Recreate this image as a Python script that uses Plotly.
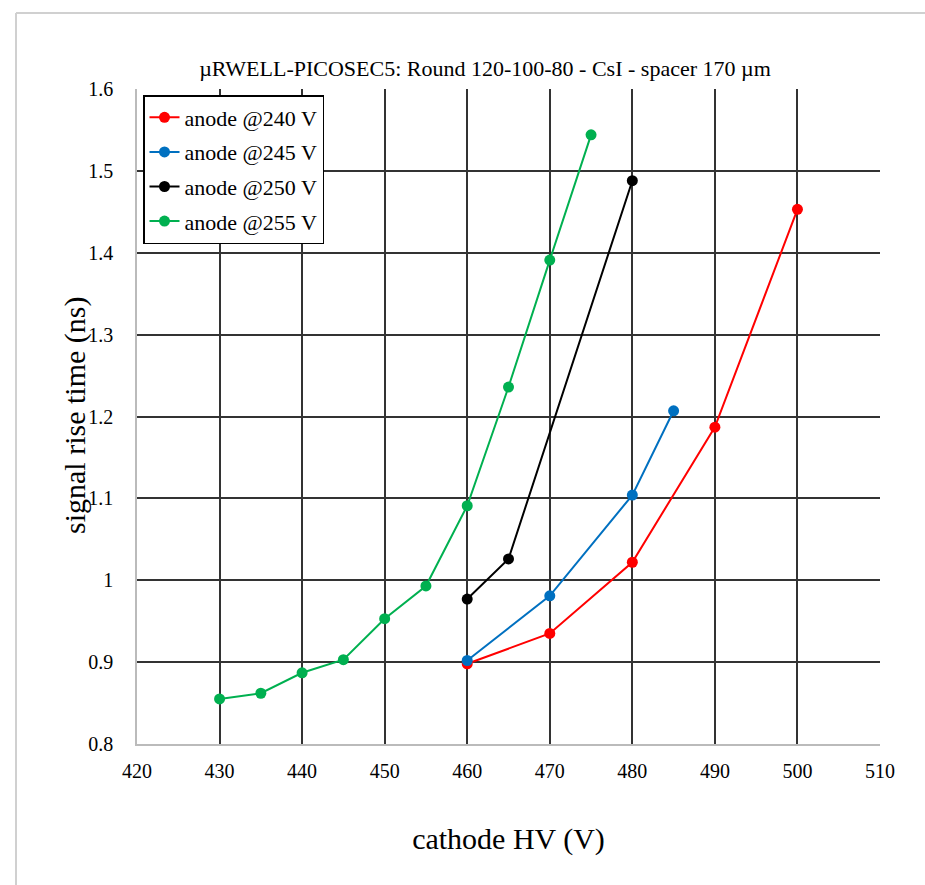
import plotly.graph_objects as go

# Cathode HV scan, rise time per anode voltage
hv_240 = [460, 470, 480, 490, 500]
rt_240 = [0.898, 0.935, 1.022, 1.187, 1.453]

hv_245 = [460, 470, 480, 485]
rt_245 = [0.902, 0.981, 1.104, 1.207]

hv_250 = [460, 465, 480]
rt_250 = [0.977, 1.026, 1.488]

hv_255 = [430, 435, 440, 445, 450, 455, 460, 465, 470, 475]
rt_255 = [0.855, 0.862, 0.887, 0.903, 0.953, 0.993, 1.091, 1.236, 1.391, 1.544]

series = [
    ("anode @240 V", hv_240, rt_240, "#FF0000"),
    ("anode @245 V", hv_245, rt_245, "#0070C0"),
    ("anode @250 V", hv_250, rt_250, "#000000"),
    ("anode @255 V", hv_255, rt_255, "#00B050"),
]

SERIF = "Liberation Serif"
L, R, T, B = 137, 45, 89, 141
PW, PH = 925 - L - R, 885 - T - B

fig = go.Figure()
for name, x, y, color in series:
    fig.add_trace(go.Scatter(
        x=x, y=y, name=name, legendgroup=name, mode="lines+markers",
        line=dict(color=color, width=2),
        marker=dict(color=color, size=11),
    ))

fig.update_layout(
    width=925, height=885,
    margin=dict(l=L, r=R, t=T, b=B),
    paper_bgcolor="white", plot_bgcolor="white",
    font=dict(family=SERIF, color="#000000"),
    title=dict(
        text="µRWELL-PICOSEC5: Round 120-100-80 - CsI - spacer 170 µm",
        x=(485 - L) / PW, xref="paper", xanchor="center",
        y=1 - 68 / 885, yanchor="middle",
        font=dict(family=SERIF, size=22, color="#000000"),
    ),
    showlegend=True,
    legend=dict(
        x=(143 - L) / PW, y=(885 - B - 95) / PH, xanchor="left", yanchor="top",
        bgcolor="white", bordercolor="#000000", borderwidth=1.5,
        font=dict(family=SERIF, size=22, color="#000000"),
        itemwidth=30, traceorder="grouped", tracegroupgap=3,
    ),
    annotations=[
        dict(text="signal rise time (ns)", textangle=-90,
             xref="paper", yref="paper",
             x=(75 - L) / PW, y=(885 - B - 416) / PH,
             xanchor="center", yanchor="middle", showarrow=False,
             font=dict(family=SERIF, size=30, color="#000000")),
    ],
    shapes=[
        dict(type="line", xref="paper", yref="paper",
             x0=(16 - L) / PW, x1=(925 - L) / PW,
             y0=(885 - B - 13) / PH, y1=(885 - B - 13) / PH,
             line=dict(color="#D0D0D0", width=2)),
        dict(type="line", xref="paper", yref="paper",
             x0=(16 - L) / PW, x1=(16 - L) / PW,
             y0=-B / PH, y1=(885 - B - 13) / PH,
             line=dict(color="#D0D0D0", width=2)),
    ],
)

fig.update_xaxes(
    range=[420, 510], dtick=10, tick0=420,
    showgrid=True, gridcolor="#333333", gridwidth=1.5,
    showline=True, linecolor="#BBBBBB", linewidth=1.5, mirror=False,
    zeroline=False, ticks="", ticklabelstandoff=8,
    tickfont=dict(family=SERIF, size=20, color="#000000"),
    title=dict(text="cathode HV (V)", standoff=47,
               font=dict(family=SERIF, size=30, color="#000000")),
)
fig.update_yaxes(
    range=[0.8, 1.6], dtick=0.1, tick0=0.8,
    showgrid=True, gridcolor="#333333", gridwidth=1.5,
    showline=True, linecolor="#BBBBBB", linewidth=1.5,
    zeroline=False, ticks="", ticklabelstandoff=18,
    tickfont=dict(family=SERIF, size=20, color="#000000"),
)

fig.write_html("out.html")
